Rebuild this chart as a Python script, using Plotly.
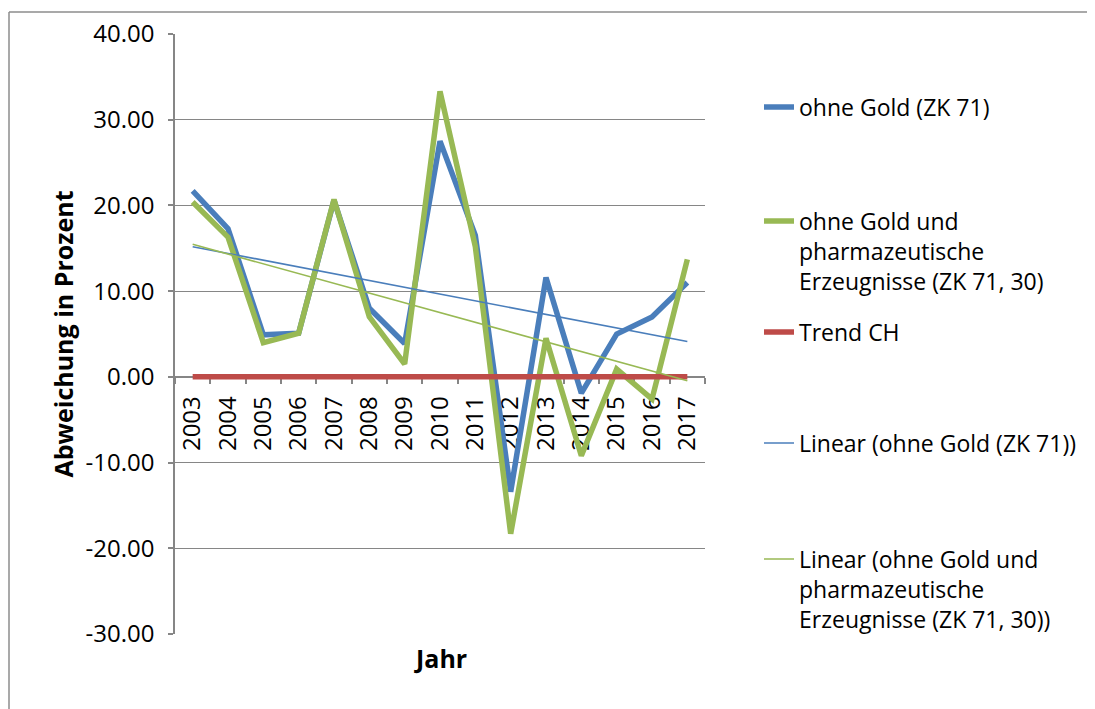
import numpy as np
import plotly.graph_objects as go

years = [str(y) for y in range(2003, 2018)]
ohne_gold = [21.7, 17.3, 4.9, 5.1, 20.6, 8.0, 3.9, 27.5, 16.5, -13.4, 11.6, -1.9, 5.0, 7.0, 11.0]
ohne_gold_pharma = [20.4, 16.3, 4.0, 5.1, 20.7, 7.0, 1.5, 33.3, 15.2, -18.3, 4.5, -9.2, 0.9, -2.6, 13.7]
trend_ch = [0.0] * 15
y_ticks = [40, 30, 20, 10, 0, -10, -20, -30]

idx = np.arange(len(years))
fit_blue = np.polyval(np.polyfit(idx, ohne_gold, 1), idx)
fit_green = np.polyval(np.polyfit(idx, ohne_gold_pharma, 1), idx)

BLUE = "#4A7EBB"
GREEN = "#98B954"
RED = "#BE4B48"
GRAY = "#868686"
FONT = "Open Sans"
FS_TICK = 24
FS_LEG = 23
FS_TITLE = 25

OFF = 8  # default page body margin
W, H = 1095 - OFF, 709 - OFF
# target plot area in page pixels: x 175..705, y 34..634
L, T = 175 - OFF, 34 - OFF
R, B = W - (705 - OFF), H - (634 - OFF)
PW, PH = W - L - R, H - T - B


def px_x(p):
    return (p - OFF - L) / PW


def px_y(p):
    return (H - B - (p - OFF)) / PH


fig = go.Figure()
fig.add_trace(go.Scatter(x=years, y=ohne_gold, mode="lines", name="ohne Gold (ZK 71)",
                         line=dict(color=BLUE, width=5.5), legend="legend"))
fig.add_trace(go.Scatter(x=years, y=ohne_gold_pharma, mode="lines",
                         name="ohne Gold und<br>pharmazeutische<br>Erzeugnisse (ZK 71, 30)",
                         line=dict(color=GREEN, width=5.5), legend="legend2"))
fig.add_trace(go.Scatter(x=years, y=trend_ch, mode="lines", name="Trend CH",
                         line=dict(color=RED, width=5.5), legend="legend3"))
fig.add_trace(go.Scatter(x=years, y=fit_blue, mode="lines", name="Linear (ohne Gold (ZK 71))",
                         line=dict(color=BLUE, width=1.6), legend="legend4"))
fig.add_trace(go.Scatter(x=years, y=fit_green, mode="lines",
                         name="Linear (ohne Gold und<br>pharmazeutische<br>Erzeugnisse (ZK 71, 30))",
                         line=dict(color=GREEN, width=1.6), legend="legend5"))

leg_common = dict(x=px_x(759), xanchor="left", yanchor="middle", bgcolor="rgba(0,0,0,0)",
                  font=dict(family=FONT, size=FS_LEG, color="#000000"), valign="top")
legend_y = {"legend": 107, "legend2": 251, "legend3": 332, "legend4": 443, "legend5": 589}
layout_legends = {k: dict(leg_common, y=px_y(v)) for k, v in legend_y.items()}

y0, y1 = -30, 40
border = dict(color="#8C8C8C", width=1.5)
fig.update_layout(
    width=W, height=H,
    margin=dict(l=L, r=R, t=T, b=B, autoexpand=False),
    paper_bgcolor="white", plot_bgcolor="white",
    font=dict(family=FONT, size=FS_TICK, color="#000000"),
    showlegend=True,
    **layout_legends,
    xaxis=dict(
        type="category", categoryorder="array", categoryarray=years,
        range=[-0.5, len(years) - 0.5],
        anchor="free", position=(0 - y0) / (y1 - y0),
        showline=True, linecolor=GRAY, linewidth=1.5, layer="below traces",
        ticks="outside", tickson="boundaries", ticklen=6, tickcolor=GRAY, tickwidth=1.5,
        tickangle=-90, showgrid=False, ticklabelstandoff=9,
        tickfont=dict(family=FONT, size=FS_TICK, color="#000000"),
    ),
    yaxis=dict(
        range=[y0, y1], tickvals=y_ticks, ticktext=[f"{v:.2f}" for v in y_ticks],
        showline=True, linecolor=GRAY, linewidth=1.5,
        ticks="outside", ticklen=5, tickcolor=GRAY, tickwidth=1.5,
        showgrid=True, gridcolor=GRAY, gridwidth=1.2, zeroline=False,
        ticklabelstandoff=9,
        tickfont=dict(family=FONT, size=FS_TICK, color="#000000"),
        title=dict(text="<b>Abweichung in Prozent</b>", standoff=5,
                   font=dict(family=FONT, size=FS_TITLE, color="#000000")),
    ),
    annotations=[dict(text="<b>Jahr</b>", xref="paper", yref="paper", x=0.5, y=px_y(658),
                      xanchor="center", yanchor="middle", showarrow=False,
                      font=dict(family=FONT, size=FS_TITLE, color="#000000"))],
    shapes=[
        dict(type="line", xref="paper", yref="paper",
             x0=px_x(9), x1=px_x(1130), y0=px_y(12), y1=px_y(12), line=border, layer="below"),
        dict(type="line", xref="paper", yref="paper",
             x0=px_x(9), x1=px_x(9), y0=px_y(12), y1=px_y(740), line=border, layer="below"),
    ],
)

fig.write_html("out.html")
